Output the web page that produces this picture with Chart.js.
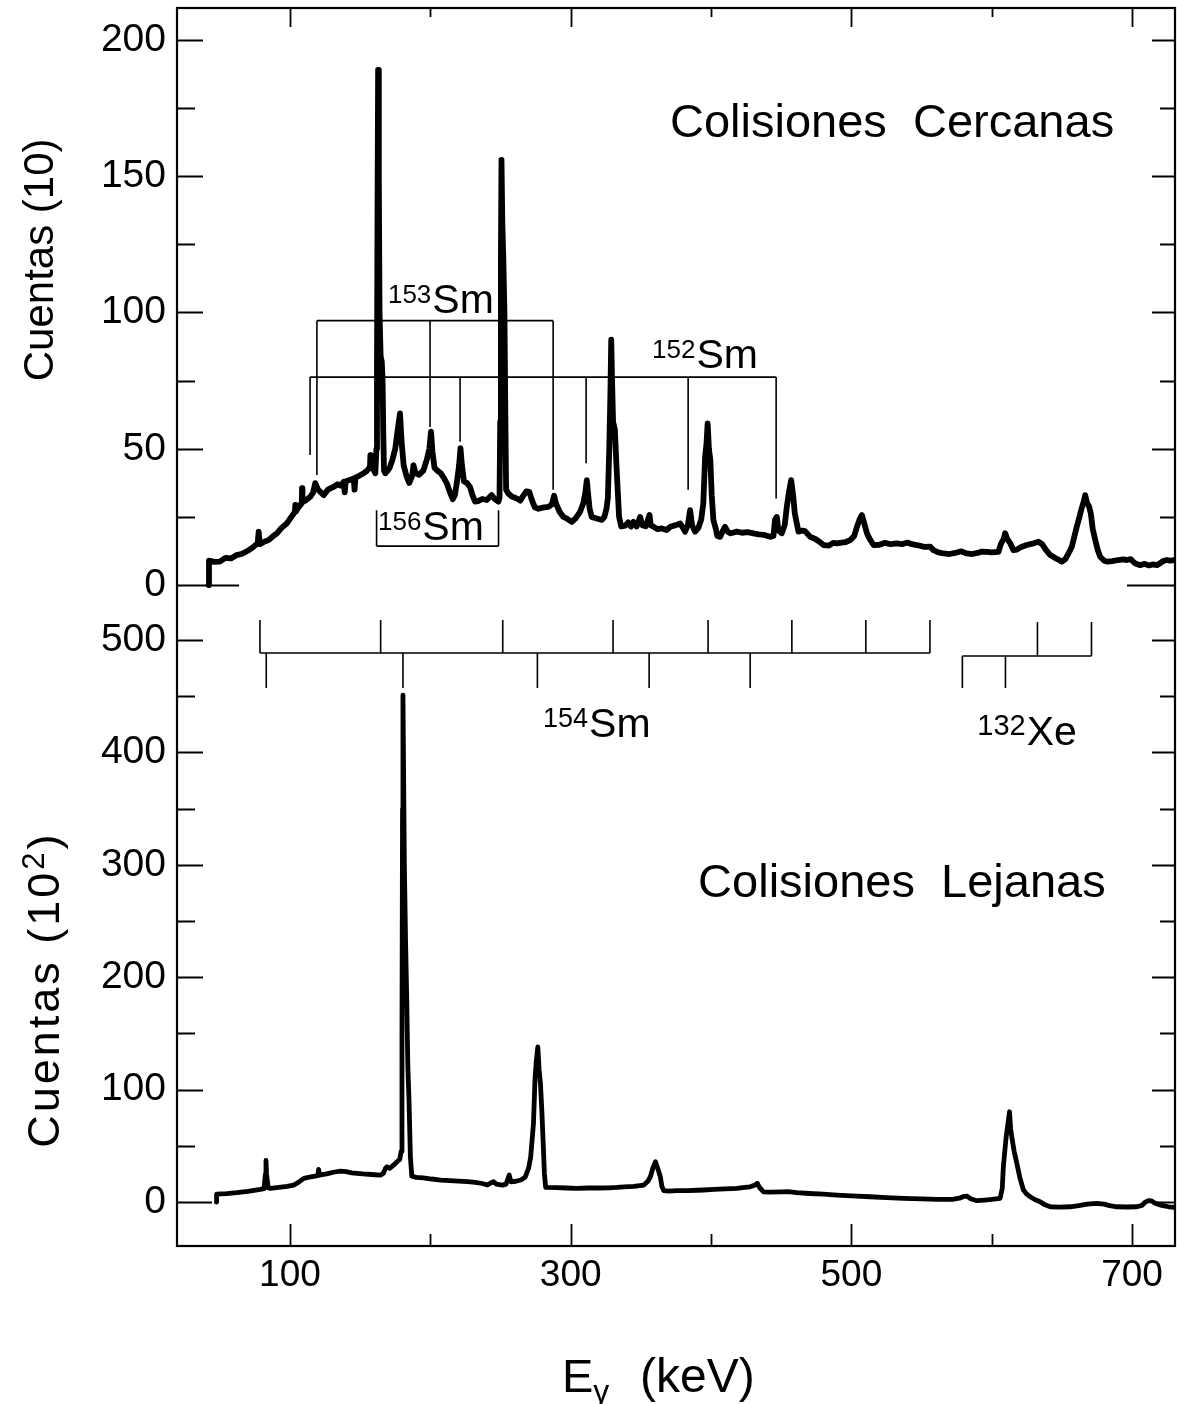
<!DOCTYPE html>
<html>
<head>
<meta charset="utf-8">
<title>Espectros gamma: colisiones cercanas y lejanas</title>
<script src="https://cdn.jsdelivr.net/npm/chart.js@4.4.1/dist/chart.umd.min.js"></script>
<style>
  html, body { margin: 0; padding: 0; background: #fff; }
  #wrap { width: 1177px; height: 1404px; position: relative; }
  canvas { display: block; }
</style>
</head>
<body>
<div id="wrap"><canvas id="chart" width="1177" height="1404"></canvas></div>
<script>
// ---- Espectro de colisiones cercanas: energía (keV) y cuentas (unidades de 10) ----
const closeEnergy = [
  42, 42.3, 46, 50, 54, 58, 62, 66, 70.6, 74,
  77, 77.7, 78.5, 82, 84.8, 88, 90.7, 94, 97.9, 101,
  103.5, 103.8, 104.2, 106, 108.4, 108.6, 108.9, 111, 114.5, 116.5,
  118, 120, 122, 124, 127, 131, 134, 136, 138.3, 139,
  139.7, 142, 145.4, 146, 146.7, 149, 152.5, 155, 157, 157.3,
  157.6, 159.5, 160.8, 161.6, 162.0, 162.4, 162.8, 163.3, 163.8, 164.6,
  165.4, 166.0, 166.5, 167.0, 168, 169.5, 171, 173, 175, 176.5,
  178.4, 179.6, 181, 183, 185, 187, 188, 189.5, 192, 195,
  197.5, 199.3, 200.5, 201.5, 203, 205, 207.5, 210, 212, 214,
  216, 217.5, 219, 220.5, 221.5, 222.5, 224, 226, 228.3, 230,
  231.9, 234, 237, 240.2, 243.7, 246, 248.5, 249.3, 249.8, 250.3,
  250.7, 251.3, 252, 252.8, 253.5, 254, 255.6, 258, 261.5, 264,
  266.5, 268.5, 270.5, 272.5, 274.5, 277, 280, 284.1, 286.5, 288.2,
  289.5, 292, 294.8, 297, 300.8, 303.5, 306.7, 309, 310.5, 311.5,
  312.5, 313.5, 315, 318, 322.2, 324, 325.5, 326.5, 327.5, 328.3,
  328.9, 329.5, 330.2, 331.5, 332.5, 333.5, 334.5, 336, 339, 341,
  343, 344.7, 347, 349.5, 351, 353.5, 356.2, 357, 359, 362,
  365, 368.4, 371, 375, 378, 380, 381.5, 383.5, 385.1, 386.5,
  388.7, 391, 393, 394.5, 395.8, 396.8, 397.6, 398.5, 399.5, 400.5,
  401.7, 403.5, 404.5, 406.5, 408.5, 410, 412, 414, 418.4, 422,
  426, 430.2, 434, 438, 442.1, 444.5, 445.6, 446.9, 448, 450.4,
  452.5, 454, 455.5, 457.1, 458.5, 459.7, 462.3, 465, 467, 470.7,
  474, 477, 480.2, 484, 487, 489.7, 493, 496, 499.2, 502,
  504, 505.8, 507.5, 509, 511.1, 513, 515.8, 520, 524, 528,
  532.4, 536, 540, 543, 546.7, 552, 556.2, 558.5, 562, 565.6,
  570, 574, 578, 582.2, 586, 590, 593, 596.5, 600, 604.8,
  606.5, 608.5, 609.6, 611, 613, 615.5, 618, 621, 625, 629,
  633.3, 636, 638.5, 641.7, 645, 648, 650, 652.5, 654.7, 657,
  658.5, 660.6, 662.5, 664, 665.5, 666.6, 668, 669.3, 670.6, 672,
  673.8, 675.5, 677.3, 680, 682.1, 686, 690, 694, 696.3, 699,
  702, 705.8, 709, 712, 715, 717.7, 720, 722, 724.8, 727,
  730.6
];
const closeCounts = [
  0, 9, 8.5, 8.6, 10, 9.8, 11, 11.5, 12.8, 14,
  15.4, 19.6, 15, 16, 16.5, 18, 19, 21, 22.7, 25,
  26.9, 29.4, 27, 28.5, 30, 35.6, 30.5, 31, 32.4, 34,
  37.4, 35, 34, 33, 35, 36, 37, 36.5, 37.9, 34,
  38, 38.5, 39.1, 35, 39.5, 40, 41, 42, 43.4, 47.7,
  43, 42.5, 41, 50, 80, 140, 189, 150, 100, 84,
  82, 75, 55, 42, 41, 42, 43, 46, 50, 56,
  63, 52, 44, 40, 37.5, 40, 44, 41, 40.5, 42,
  46, 50, 56.3, 49, 43, 42, 41, 39, 37, 34,
  31.5, 33, 38, 44, 50.2, 44, 38, 37.5, 36, 33,
  30.6, 30.8, 31.6, 31.2, 33, 31.5, 30.6, 32, 60, 120,
  156, 133, 120, 100, 60, 35, 33.6, 32.5, 31.8, 31,
  33, 34.4, 34.2, 31, 28.5, 28, 28.4, 28.7, 29.5, 32.8,
  30, 27, 25, 24.5, 23.2, 24.5, 26.9, 30, 34, 38.5,
  33, 28, 25, 24.5, 23.9, 25, 28, 32, 50, 70,
  90, 75, 60, 57, 45, 35, 25, 21.5, 21.8, 23,
  21.5, 23.2, 21.5, 25, 22, 21.6, 25.7, 22, 21.4, 20.5,
  20.8, 20.2, 21.4, 22, 22.6, 21, 19.6, 22, 27.5, 22,
  19.6, 21, 24, 30, 47.1, 52, 59.3, 50, 45.9, 33,
  23.9, 20.5, 18, 17.7, 20, 21.4, 19.5, 19, 19.6, 19.2,
  19.4, 19, 18.6, 18.4, 17.7, 18, 24, 25, 20, 19,
  22, 28.7, 34, 38.5, 33, 26.3, 19.6, 20, 19.8, 17.7,
  17, 16, 14.7, 14.5, 15.5, 15.3, 15.6, 15.8, 16.5, 18,
  21.4, 24, 25.7, 23, 19, 17, 14.7, 14.8, 15.5, 15,
  15.3, 15, 15.6, 15, 14.7, 14, 14.1, 12.8, 12, 11.6,
  11.4, 11.8, 12.4, 11.6, 11.4, 11.8, 12.3, 12.2, 12, 12.2,
  15, 17, 19, 17, 15.5, 12.8, 13, 14, 14.7, 15.2,
  15.9, 15, 13, 11, 10, 9.2, 8.6, 9.5, 11.6, 14,
  17, 21.4, 25, 28, 30.5, 33, 30, 29, 26.3, 20.5,
  16.5, 13, 10.4, 9, 8.6, 8.8, 9.2, 9.4, 9.2, 9.5,
  8, 7.3, 7.8, 7.2, 7.6, 7.3, 8, 8.8, 9.2, 9,
  9.2
];

// ---- Espectro de colisiones lejanas: energía (keV) y cuentas (unidades de 10^2) ----
const farEnergy = [
  47.5, 47.7, 55, 62, 70, 78.8, 81.5, 82.5, 82.9, 83.3,
  84.5, 86, 92, 98, 102.6, 106, 109.8, 115, 119.8, 120.4,
  121, 126, 131, 135.9, 140, 144, 147.8, 152, 158, 164.4,
  166.5, 168, 169.1, 171, 174, 176.3, 178.2, 179.2, 179.8, 180.2,
  180.5, 181.5, 182.3, 183.2, 184, 184.8, 185.8, 186.8, 190, 195,
  201, 207.5, 214, 220, 226.5, 232, 237, 240.7, 243, 245,
  247, 251.4, 254, 256.2, 257.5, 261, 264.5, 267.5, 270, 271.5,
  273.5, 274.6, 275.5, 276.6, 277.5, 278.5, 279.5, 280.5, 281.3, 282.2,
  290, 297, 304.6, 312, 320, 327, 333, 338, 345, 352.1,
  355, 356.8, 358.5, 360.4, 362, 363.9, 365, 366.3, 370, 375.8,
  383, 390, 394.6, 402, 410, 418.4, 424, 427.9, 431, 433,
  434.5, 437.4, 442, 450, 455, 461.1, 470, 480, 489.7, 500,
  513.4, 525, 537.2, 550, 561, 572, 577, 580, 582.3, 585,
  589.4, 595, 600, 606, 607.5, 608.3, 609.3, 610.3, 611.6, 612.7,
  613.5, 614.3, 616, 617.9, 620, 622.6, 625, 627.4, 631, 634.5,
  638, 641.7, 648, 655.9, 662, 668, 674.9, 680, 684, 689.2,
  696, 703.5, 707, 709.5, 711.5, 714, 716.5, 720.1, 726, 730.6
];
const farCounts = [
  0, 7, 7.5, 8.3, 9.5, 11.3, 12, 25, 37, 25,
  12.5, 12.2, 13, 14, 15.1, 17.5, 21.1, 22.5, 23.5, 29,
  24, 25, 26.5, 27.6, 27, 26, 25.5, 25, 24.5, 24,
  25.5, 30, 31.4, 30, 33, 35.9, 38, 45, 150, 350,
  451, 300, 236, 180, 120, 91, 40, 23, 22, 21.5,
  20.5, 19.6, 19, 18.6, 18.1, 17.5, 16.5, 15.1, 17, 18.1,
  16, 15.1, 16, 24, 18, 18.5, 19.6, 22, 30, 40,
  70, 110, 125, 138, 118, 105, 80, 50, 25, 13,
  12.8, 12.5, 12.2, 12.5, 12.5, 12.6, 13, 13.5, 14, 15.1,
  18.5, 22.5, 30, 35.9, 30, 22.5, 14, 10.1, 9.8, 10.1,
  10.2, 10.5, 10.7, 11.2, 11.8, 12.2, 13, 13.6, 15, 16.6,
  13, 9, 8.8, 9, 9.2, 8.3, 7.6, 7, 6.2, 5.5,
  4.7, 4, 3.3, 2.8, 2.4, 2.4, 3.4, 5, 5.3, 3,
  1.2, 1.8, 2.4, 3.3, 12, 31.4, 45, 58, 70, 80.3,
  65, 58, 45, 34.4, 22, 10.7, 7, 4.7, 2, 0.3,
  -2.5, -4.2, -4.5, -4.2, -3.2, -1.8, -1.2, -1.8, -3.2, -4.2,
  -4.4, -4.2, -3, 0, 1.2, 1, -1, -2.7, -4.2, -4.7
];

// ---- Marcas de los ejes ----
const closeTicksLabelled = [0, 50, 100, 150, 200];
const closeTicksMinor = [25, 75, 125, 175];
const farTicksLabelled = [0, 100, 200, 300, 400, 500];
const farTicksMinor = [50, 150, 250, 350, 450];
const energyTicksLabelled = [100, 300, 500, 700];
const energyTicksMinor = [200, 400, 600];

// ---- Esquemas de niveles (energías de las transiciones, keV) ----
const sm153Level = 97;
const sm153Lines = [119.2, 199.8, 287.5];
const sm153LineEnds = [40.4, 58, 35];
const sm152Level = 76.3;
const sm152Lines = [114.3, 221.2, 311, 383.7, 446.4];
const sm152LineEnds = [47.7, 52.6, 44.7, 35, 31.8];
const sm156Level = 14.3;
const sm156Lines = [161.7, 248.6];
const sm156LineEnds = [27.5, 27.5];
const sm154Level = 488.4;
const sm154Upper = [78.6, 164.6, 251.6, 330.2, 397.9, 457.6, 510.3, 556];
const sm154UpperEnd = 517.8;
const sm154Lower = [83.1, 180.5, 276.3, 355.9, 427.9];
const sm154LowerEnd = 457.3;
const xe132Level = 485.8;
const xe132Lines = [579.1, 609.8, 632.6, 671.1];
const xe132LineEnds = [457.3, 457.3, 516, 516];

// ---- Utilidades ----
const ink = '#000';
const family = "'Liberation Sans', Arial, Helvetica, sans-serif";
Chart.defaults.font.family = family;
Chart.defaults.color = ink;

const toPoints = (xs, ys) => xs.map((x, i) => ({ x, y: ys[i] }));

// Horizontal bar of a level scheme plus its vertical transition lines
function scheme(level, lines, ends) {
  const first = Math.min(...lines), last = Math.max(...lines);
  const pts = [{ x: first, y: level }, { x: last, y: level }, { x: last, y: null }];
  lines.forEach((e, i) => {
    pts.push({ x: e, y: level }, { x: e, y: ends[i] }, { x: e, y: null });
  });
  return pts;
}

const spectrumStyle = {
  borderColor: ink, pointRadius: 0, tension: 0, fill: false,
  borderJoinStyle: 'round', borderCapStyle: 'round'
};
const schemeStyle = {
  borderColor: ink, borderWidth: 1.6, pointRadius: 0, tension: 0, fill: false,
  borderJoinStyle: 'miter', borderCapStyle: 'butt'
};

// Text placed on the panels (anchor in data units of the given axis)
const panelTexts = [
  { axis: 'yClose', e: 370.8, v: 164.4, text: 'Colisiones  Cercanas', size: 47 },
  { axis: 'yFar',   e: 390.8, v: 271.4, text: 'Colisiones  Lejanas',  size: 47 }
];
const isotopeTexts = [
  { axis: 'yClose', e: 169.8, v: 99.8, sup: '153', main: 'Sm', supSize: 26 },
  { axis: 'yClose', e: 358.0, v: 79.6, sup: '152', main: 'Sm', supSize: 26 },
  { axis: 'yClose', e: 162.7, v: 16.5, sup: '156', main: 'Sm', supSize: 26 },
  { axis: 'yFar',   e: 280.3, v: 413.7, sup: '154', main: 'Sm', supSize: 27 },
  { axis: 'yFar',   e: 589.7, v: 406.6, sup: '132', main: 'Xe', supSize: 29 }
];

function drawSup(ctx, x, y, sup, main, supSize, mainSize, raise) {
  ctx.font = `${supSize}px ${family}`;
  ctx.fillText(sup, x, y - raise);
  const w = ctx.measureText(sup).width;
  ctx.font = `${mainSize}px ${family}`;
  ctx.fillText(main, x + w + 1, y);
}

// Remove the automatic label padding so the plot frame fills the page
function noPadding(s) {
  s.paddingTop = 0; s.paddingBottom = 0; s.paddingLeft = 0; s.paddingRight = 0;
}

// Frame, inward ticks on all four sides, titles and labels
const framePlugin = {
  id: 'frameAndLabels',
  afterDraw(chart) {
    const { ctx, chartArea: a, scales } = chart;
    const x = scales.x, yc = scales.yClose, yf = scales.yFar;
    ctx.save();
    ctx.strokeStyle = ink;
    ctx.fillStyle = ink;
    ctx.lineCap = 'butt';

    // y ticks
    ctx.lineWidth = 1.8;
    const yTicks = (scale, major, minor, zeroLeft, zeroRight) => {
      const all = major.map(v => [v, true]).concat(minor.map(v => [v, false]));
      all.forEach(([v, isMajor]) => {
        const py = Math.round(scale.getPixelForValue(v)) + 0.5;
        let ll = isMajor ? 26 : 18, rl = isMajor ? 23 : 15;
        if (v === 0) { ll = zeroLeft; rl = zeroRight; }
        ctx.beginPath();
        ctx.moveTo(a.left, py); ctx.lineTo(a.left + ll, py);
        ctx.moveTo(a.right - rl, py); ctx.lineTo(a.right, py);
        ctx.stroke();
      });
    };
    yTicks(yc, closeTicksLabelled, closeTicksMinor, 62, 48);
    yTicks(yf, farTicksLabelled, farTicksMinor, 35, 23);

    // x ticks (bottom and top edges)
    const xAll = energyTicksLabelled.map(v => [v, true]).concat(energyTicksMinor.map(v => [v, false]));
    xAll.forEach(([v, isMajor]) => {
      const px = Math.round(x.getPixelForValue(v)) + 0.5;
      ctx.beginPath();
      ctx.moveTo(px, a.bottom); ctx.lineTo(px, a.bottom - (isMajor ? 22 : 12));
      ctx.moveTo(px, a.top); ctx.lineTo(px, a.top + (isMajor ? 19 : 9));
      ctx.stroke();
    });

    // frame
    ctx.lineWidth = 2.2;
    ctx.strokeRect(a.left, a.top, a.right - a.left, a.bottom - a.top);

    // panel titles
    ctx.textBaseline = 'alphabetic';
    ctx.textAlign = 'left';
    panelTexts.forEach(t => {
      ctx.font = `${t.size}px ${family}`;
      ctx.fillText(t.text, x.getPixelForValue(t.e), scales[t.axis].getPixelForValue(t.v));
    });

    // isotope labels
    isotopeTexts.forEach(t => {
      drawSup(ctx, x.getPixelForValue(t.e), scales[t.axis].getPixelForValue(t.v),
              t.sup, t.main, t.supSize, 41, 10);
    });

    // y-axis titles (rotated)
    const rotTitle = (cx, cy, parts, spacing) => {
      ctx.save();
      ctx.translate(cx, cy);
      ctx.rotate(-Math.PI / 2);
      ctx.letterSpacing = spacing + 'px';
      let total = 0;
      parts.forEach(p => { ctx.font = `${p.size}px ${family}`; p.w = ctx.measureText(p.text).width; total += p.w; });
      let cur = -total / 2;
      ctx.textAlign = 'left';
      ctx.textBaseline = 'alphabetic';
      parts.forEach(p => {
        ctx.font = `${p.size}px ${family}`;
        ctx.fillText(p.text, cur, 15 - (p.raise || 0));
        cur += p.w;
      });
      ctx.restore();
    };
    rotTitle(a.left - 139, yc.getPixelForValue(119.3), [{ text: 'Cuentas (10)', size: 42 }], 0);
    rotTitle(a.left - 133, yf.getPixelForValue(189), [
      { text: 'Cuentas (10', size: 45 },
      { text: '2', size: 31, raise: 15 },
      { text: ')', size: 45 }
    ], 3);

    // x-axis title: E_gamma (keV)
    const bx = (a.left + a.right) / 2 - 114, by = a.bottom + 146;
    ctx.font = `47px ${family}`;
    ctx.fillText('E', bx, by);
    const wE = ctx.measureText('E').width;
    ctx.font = `32px ${family}`;
    ctx.fillText('γ', bx + wE, by + 10);
    ctx.font = `48px ${family}`;
    ctx.fillText('(keV)', bx + 78, by);

    ctx.restore();
  }
};

const chart = new Chart(document.getElementById('chart'), {
  type: 'line',
  data: {
    datasets: [
      { label: 'Colisiones Cercanas', data: toPoints(closeEnergy, closeCounts), yAxisID: 'yClose', borderWidth: 5.8, ...spectrumStyle },
      { label: 'Colisiones Lejanas', data: toPoints(farEnergy, farCounts), yAxisID: 'yFar', borderWidth: 4.8, ...spectrumStyle },
      { label: '153Sm', data: scheme(sm153Level, sm153Lines, sm153LineEnds), yAxisID: 'yClose', ...schemeStyle },
      { label: '152Sm', data: scheme(sm152Level, sm152Lines, sm152LineEnds), yAxisID: 'yClose', ...schemeStyle },
      { label: '156Sm', data: scheme(sm156Level, sm156Lines, sm156LineEnds), yAxisID: 'yClose', ...schemeStyle },
      { label: '154Sm',
        data: scheme(sm154Level, sm154Upper.concat(sm154Lower),
                     sm154Upper.map(() => sm154UpperEnd).concat(sm154Lower.map(() => sm154LowerEnd))),
        yAxisID: 'yFar', ...schemeStyle },
      { label: '132Xe', data: scheme(xe132Level, xe132Lines, xe132LineEnds), yAxisID: 'yFar', ...schemeStyle }
    ]
  },
  options: {
    responsive: false,
    animation: false,
    devicePixelRatio: 1,
    layout: { padding: { top: 8, right: 2, left: 0, bottom: 0 } },
    plugins: { legend: { display: false }, tooltip: { enabled: false } },
    scales: {
      x: {
        type: 'linear', min: 19.5, max: 730.6,
        grid: { display: false, drawTicks: false }, border: { display: false },
        afterBuildTicks: s => {
          s.ticks = energyTicksLabelled.concat(energyTicksMinor).sort((p, q) => p - q).map(v => ({ value: v }));
        },
        afterFit: s => { s.height = 158; noPadding(s); },
        ticks: {
          autoSkip: false, maxRotation: 0, padding: 8, color: ink,
          font: { size: 37 },
          callback: v => energyTicksLabelled.includes(v) ? String(v) : ''
        }
      },
      yFar: {
        type: 'linear', position: 'left', stack: 'panels', stackWeight: 647,
        min: -39.1, max: 536.5,
        grid: { display: false, drawTicks: false }, border: { display: false },
        afterBuildTicks: s => {
          s.ticks = farTicksLabelled.concat(farTicksMinor).sort((p, q) => p - q).map(v => ({ value: v }));
        },
        afterFit: s => { s.width = 177; noPadding(s); },
        ticks: {
          autoSkip: false, padding: 11, color: ink, font: { size: 39 },
          callback: v => farTicksLabelled.includes(v) ? String(v) : ''
        }
      },
      yClose: {
        type: 'linear', position: 'left', stack: 'panels', stackWeight: 591,
        min: -5.1, max: 211.7,
        grid: { display: false, drawTicks: false }, border: { display: false },
        afterBuildTicks: s => {
          s.ticks = closeTicksLabelled.concat(closeTicksMinor).sort((p, q) => p - q).map(v => ({ value: v }));
        },
        afterFit: s => { s.width = 177; noPadding(s); },
        ticks: {
          autoSkip: false, padding: 11, color: ink, font: { size: 39 },
          callback: v => closeTicksLabelled.includes(v) ? String(v) : ''
        }
      }
    }
  },
  plugins: [framePlugin]
});
</script>
</body>
</html>
